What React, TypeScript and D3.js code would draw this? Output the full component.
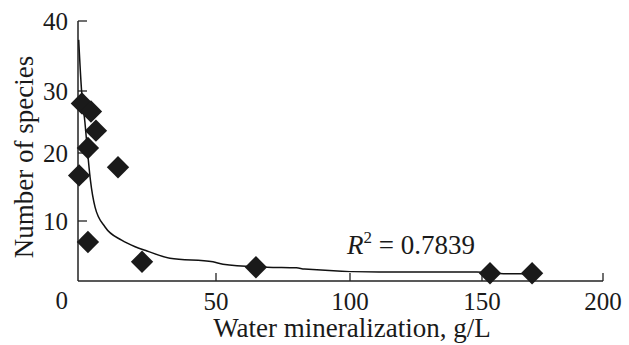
import React from 'react';
import * as d3 from 'd3';

// observed points: mineralization (g/L) vs species count
const mineralization = [1.4, 4.7, 6.5, 3.6, 0.4, 14.5, 3.6, 23.2, 64.9, 153.3, 170.7];
const species = [28.0, 26.7, 23.6, 20.8, 16.7, 17.9, 6.5, 3.2, 2.3, 1.3, 1.3];

// fitted trend line
const fitX = [0.25, 1.3, 2.5, 3.5, 4.5, 6.2, 9.8, 15.8, 20.7, 25, 33.3, 48.9, 52.6, 69, 80, 83, 111, 148, 156, 160, 170];
const fitY = [37.3, 30, 25, 20, 16, 12, 9, 6.8, 5.7, 5.0, 3.8, 3.2, 2.8, 2.3, 2.2, 2.0, 1.5, 1.5, 1.3, 1.2, 1.2];

const xTicks = [0, 50, 100, 150, 200];
const yTicks = [10, 20, 30, 40];
const xLabels = ['0', '50', '100', '150', '200'];

const font = '"Liberation Serif", "Times New Roman", serif';

export default function App() {
  const W = 629;
  const H = 345;

  // the printed axes are not quite evenly spaced, so scales are piecewise
  const x = d3.scaleLinear().domain(xTicks).range([78, 216, 350, 482, 603]);
  const y = d3.scaleLinear().domain([0, 10, 20, 30, 40]).range([281, 221, 153, 91, 21]);

  const fit = d3.zip(fitX, fitY);
  const line = d3.line<number[]>()
    .x(d => x(d[0]))
    .y(d => y(d[1]))
    .curve(d3.curveMonotoneX)(fit) || '';

  const diamond = d3.symbol().type(d3.symbolSquare).size(250)() || '';
  const pts = d3.zip(mineralization, species);

  const x0 = x(0);
  const y0 = y(0);

  return (
    <svg width={W} height={H} style={{ position: 'absolute', left: 0, top: 0, background: '#fff' }}
      fontFamily={font}>
      {/* axes */}
      <line x1={x0} y1={y(40)} x2={x0} y2={y0} stroke="#222" strokeWidth={1.5} />
      <line x1={x0} y1={y0} x2={x(200)} y2={y0} stroke="#222" strokeWidth={1.5} />
      {yTicks.map(t => (
        <g key={t}>
          <line x1={x0} x2={x0 + 9} y1={y(t)} y2={y(t)} stroke="#222" strokeWidth={1.3} />
          <text x={68} y={y(t)} dy="0.35em" textAnchor="end" fontSize={25} fill="#1a1a1a">{t}</text>
        </g>
      ))}
      <text x={68} y={y0 + 19} dy="0.35em" textAnchor="end" fontSize={25} fill="#1a1a1a">0</text>
      {xTicks.slice(1).map((t, i) => (
        <g key={t}>
          <line x1={x(t)} x2={x(t)} y1={y0} y2={y0 - 8} stroke="#222" strokeWidth={1.3} />
          <text x={x(t)} y={y0 + 29} textAnchor="middle" fontSize={25} fill="#1a1a1a">{xLabels[i + 1]}</text>
        </g>
      ))}

      {/* axis titles */}
      <text x={352} y={337} textAnchor="middle" fontSize={27} fill="#1a1a1a">
        Water mineralization, g/L
      </text>
      <text transform={`translate(33, 157) rotate(-90)`} textAnchor="middle" fontSize={27} fill="#1a1a1a">
        Number of species
      </text>

      {/* trend line */}
      <path d={line} fill="none" stroke="#111" strokeWidth={1.5} />

      {/* points */}
      {pts.map((p, i) => (
        <path key={i} d={diamond} transform={`translate(${x(p[0])},${y(p[1])}) rotate(45)`} fill="#1a1a1a" />
      ))}

      <text x={347} y={254} fontSize={27} fill="#1a1a1a">
        <tspan fontStyle="italic">R</tspan>
        <tspan fontSize={17} dy={-11}>2</tspan>
        <tspan dy={11}> = 0.7839</tspan>
      </text>
    </svg>
  );
}
